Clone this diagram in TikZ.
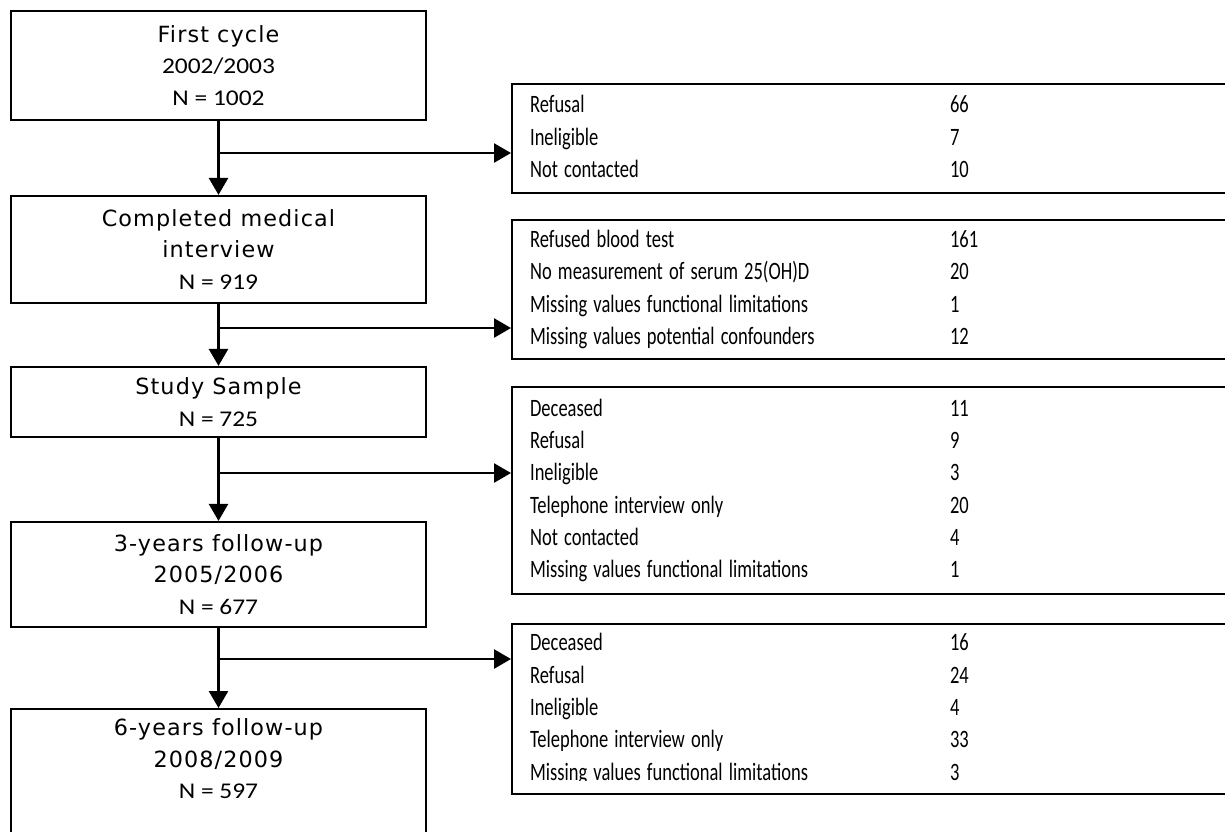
\documentclass[tikz,border=0pt]{standalone}
\usepackage{fontspec}
\usetikzlibrary{arrows.meta}
\newfontfamily\tfont[LetterSpace=5]{DejaVu Sans}
\newfontfamily\nfont{Carlito}
\newcommand\mytitle[1]{{\tfont\fontsize{22.3}{31.5}\selectfont #1}}
\newcommand\mynum[1]{\scalebox{1.13}[1]{\nfont\fontsize{22.5}{31.5}\selectfont #1}}
\newcommand\rs[1]{\scalebox{0.74}[1]{#1}}
\tikzset{
  lbox/.style={draw, line width=2.2pt, minimum width=415pt, inner sep=0pt, align=center,
    font=\fontsize{22.3}{31.5}\selectfont},
  ltext/.style={inner sep=0pt, align=center, font=\fontsize{22.3}{31.5}\selectfont},
  rbox/.style={draw, line width=2.2pt, anchor=north west, inner xsep=18pt, inner ysep=0pt,
    text width=694pt, align=left, font=\nfont\fontsize{25}{32.3}\selectfont},
  arr/.style={line width=2.6pt, -{Triangle[length=17pt,width=19pt]}}
}
\newcommand\rtab[1]{\begin{tabular}{@{}p{420pt}@{}l@{}}#1\end{tabular}}
\begin{document}
\begin{tikzpicture}[x=1pt,y=-1pt]
\useasboundingbox (0,0) rectangle (1225,831);
\clip (0,0) rectangle (1225,831);
% left column
\node[lbox, minimum height=109pt] (L1) at (218.5,65.5)
  {\mytitle{First cycle}\\\mynum{2002/2003}\\\mynum{N = 1002}};
\node[lbox, minimum height=107pt] (L2) at (218.5,249.5)
  {\mytitle{Completed medical}\\\mytitle{interview}\\\mynum{N = 919}};
\node[lbox, minimum height=70pt] (L3) at (218.5,402)
  {\mytitle{Study Sample}\\\mynum{N = 725}};
\node[lbox, minimum height=105pt] (L4) at (218.5,574.5)
  {\mytitle{3-years follow-up}\\\mytitle{2005/2006}\\\mynum{N = 677}};
\node[lbox, minimum height=150pt, anchor=north] (L5) at (218.5,708) {};
\node[ltext] (L5t) at (218.5,759)
  {\mytitle{6-years follow-up}\\\mytitle{2008/2009}\\\mynum{N = 597}};
% right column
\node[rbox, minimum height=109pt] (R1) at (511,83)
  {\rtab{\rs{Refusal} & \rs{66}\\ \rs{Ineligible} & \rs{7}\\ \rs{Not contacted} & \rs{10}}};
\node[rbox, minimum height=139pt] (R2) at (511,219)
  {\rtab{\rs{Refused blood test} & \rs{161}\\ \rs{No measurement of serum 25(OH)D} & \rs{20}\\
   \rs{Missing values functional limitations} & \rs{1}\\ \rs{Missing values potential confounders} & \rs{12}}};
\node[rbox, minimum height=207pt] (R3) at (511,386)
  {\rtab{\rs{Deceased} & \rs{11}\\ \rs{Refusal} & \rs{9}\\ \rs{Ineligible} & \rs{3}\\ \rs{Telephone interview only} & \rs{20}\\
   \rs{Not contacted} & \rs{4}\\ \rs{Missing values functional limitations} & \rs{1}}};
\node[rbox, minimum height=170pt] (R4) at (511,623)
  {\rtab{\rs{Deceased} & \rs{16}\\ \rs{Refusal} & \rs{24}\\ \rs{Ineligible} & \rs{4}\\ \rs{Telephone interview only} & \rs{33}\\
   \rs{Missing values functional limitations} & \rs{3}}};
\fill[white] (513.5,780.5) rectangle (1225,790.5);
% connectors
\draw[arr] (L1.south) -- (L2.north);
\draw[arr] (L2.south) -- (L3.north);
\draw[arr] (L3.south) -- (L4.north);
\draw[arr] (L4.south) -- (L5.north);
\coordinate (b1) at (218.5,153);
\coordinate (b2) at (218.5,328);
\coordinate (b3) at (218.5,473);
\coordinate (b4) at (218.5,659);
\draw[arr] (b1) -- (b1 -| R1.west);
\draw[arr] (b2) -- (b2 -| R2.west);
\draw[arr] (b3) -- (b3 -| R3.west);
\draw[arr] (b4) -- (b4 -| R4.west);
\end{tikzpicture}
\end{document}
